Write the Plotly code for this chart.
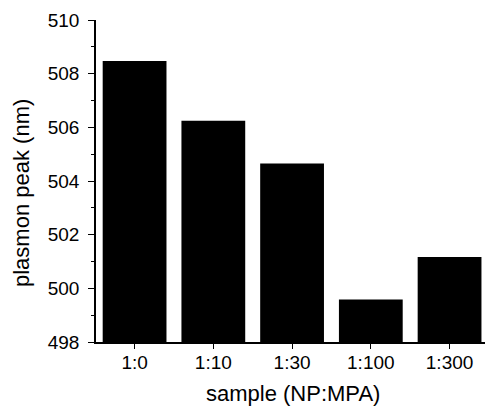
import plotly.graph_objects as go

categories = ["1:0", "1:10", "1:30", "1:100", "1:300"]
peaks = [508.47, 506.25, 504.65, 499.58, 501.17]
y_ticks = [498, 500, 502, 504, 506, 508, 510]
x_title = "sample (NP:MPA)"
y_title = "plasmon peak (nm)"

font = "Liberation Sans, Arial, sans-serif"

fig = go.Figure(go.Bar(
    x=list(range(len(categories))), y=peaks,
    marker=dict(color="black", line=dict(width=0)),
    width=0.81,
))

fig.update_layout(
    width=485, height=406,
    margin=dict(l=96, r=0, t=20, b=64),
    paper_bgcolor="white", plot_bgcolor="white",
    font=dict(family=font, color="black", size=19),
    showlegend=False,
)
fig.update_xaxes(
    range=[-0.49, 4.45],
    tickmode="array", tickvals=list(range(len(categories))), ticktext=categories,
    showline=True, linecolor="black", linewidth=1.6,
    ticks="outside", ticklen=5, tickwidth=1.2, tickcolor="black",
    showgrid=False, zeroline=False,
    ticklabelstandoff=-3,
    tickfont=dict(size=19),
)
fig.update_yaxes(
    range=[498, 510],
    tickmode="array", tickvals=y_ticks,
    showline=True, linecolor="black", linewidth=1.6,
    ticks="outside", ticklen=6, tickwidth=1.2, tickcolor="black",
    minor=dict(dtick=1, ticks="outside", ticklen=3, tickwidth=1, tickcolor="black", showgrid=False),
    showgrid=False, zeroline=False,
    ticklabelstandoff=5,
    tickfont=dict(size=19),
)
fig.add_annotation(
    text=x_title, xref="paper", yref="paper", x=0.506, y=-0.161,
    xanchor="center", yanchor="middle", showarrow=False, font=dict(size=22),
)
fig.add_annotation(
    text=y_title, xref="paper", yref="paper", x=-0.19, y=0.463,
    xanchor="center", yanchor="middle", textangle=-90, showarrow=False, font=dict(size=22),
)

fig.write_html("out.html")
